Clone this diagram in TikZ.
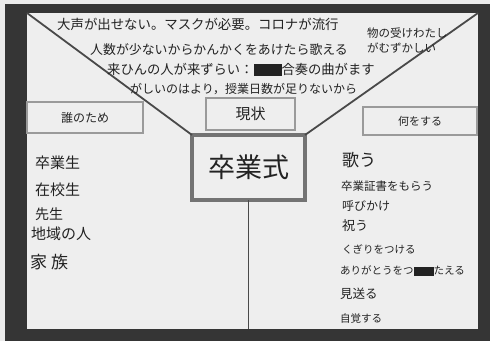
\documentclass[tikz,border=0pt]{standalone}
\usepackage{fontspec}
\newfontfamily\jp{Noto Sans CJK JP}
\definecolor{paper}{HTML}{EEEEEE}
\definecolor{frame}{HTML}{353535}
\definecolor{ink}{HTML}{222222}
\definecolor{boxgray}{HTML}{9A9A9A}
\tikzset{
  hand/.style={font=\jp, text=ink, anchor=west, inner sep=0pt},
  sidebox/.style={draw=boxgray, line width=2.6pt, fill=paper, inner sep=0pt, outer sep=0pt, font=\jp, text=ink},
  mainbox/.style={draw=gray!90!black, line width=3.4pt, fill=paper, inner sep=0pt, outer sep=0pt, font=\jp, text=ink},
  pen/.style={draw=frame!90, line width=1.8pt}
}
\begin{document}
\begin{tikzpicture}[x=1pt,y=-1pt]
\useasboundingbox (0,0) rectangle (490,341);
\fill[white!92!black] (0,0) rectangle (490,341);
\fill[frame] (5,4) rectangle (490,341);
\fill[paper] (27,13) rectangle (478,329);
% corner coordinates
\coordinate (tl) at (27,13);
\coordinate (tr) at (478,13);
\coordinate (bm) at (248,329);
% boxes
\node[mainbox, minimum width=113pt, minimum height=65pt, font=\jp\fontsize{27}{30}\selectfont] (main) at (248.5,167.5) {卒業式};
\node[sidebox, minimum width=89pt, minimum height=32pt, font=\jp\fontsize{15}{17}\selectfont] (now) at (250.5,114) {現状};
\node[sidebox, minimum width=116pt, minimum height=31pt, font=\jp\fontsize{12}{14}\selectfont] (who) at (85,117.5) {誰のため};
\node[sidebox, minimum width=114pt, minimum height=28pt, font=\jp\fontsize{11}{13}\selectfont] (what) at (420,121) {何をする};
% connectors
\draw[pen] (tl) -- (main.north west);
\draw[pen] (tr) -- (main.north east);
\draw[pen] (main.south) -- (main.south |- bm);
% top texts
\node[hand, font=\jp\fontsize{13.4}{15}\selectfont] (t1) at (57,24) {大声が出せない。マスクが必要。コロナが流行};
\node[hand, font=\jp\fontsize{12.9}{15}\selectfont] (t2) at (90,50) {人数が少ないからかんかくをあけたら歌える};
\node[hand, font=\jp\fontsize{13.3}{15}\selectfont] (t3) at (107,70) {来ひんの人が来ずらい：\rule[-0.12em]{28pt}{0.95em}合奏の曲がます};
\node[hand, font=\jp\fontsize{12}{15}\selectfont] (t4) at (130,89) {がしいのはより，授業日数が足りないから};
\node[hand, font=\jp\fontsize{11.5}{14}\selectfont] (r1) at (367,33) {物の受けわたし};
\node[hand, font=\jp\fontsize{11.5}{14}\selectfont] (r2) at (367,48) {がむずかしい};
% left list
\node[hand, font=\jp\fontsize{15}{17}\selectfont] (w1) at (35,163) {卒業生};
\node[hand, font=\jp\fontsize{15}{17}\selectfont] (w2) at (35,190) {在校生};
\node[hand, font=\jp\fontsize{14}{17}\selectfont] (w3) at (35,214) {先生};
\node[hand, font=\jp\fontsize{15}{17}\selectfont] (w4) at (31,234) {地域の人};
\node[hand, font=\jp\fontsize{17}{19}\selectfont] (w5) at (30,262) {家\hspace{4pt}族};
% right list
\node[hand, font=\jp\fontsize{17}{19}\selectfont] (d1) at (342,160) {歌う};
\node[hand, font=\jp\fontsize{11.5}{14}\selectfont] (d2) at (341,186) {卒業証書をもらう};
\node[hand, font=\jp\fontsize{12}{14}\selectfont] (d3) at (342,206) {呼びかけ};
\node[hand, font=\jp\fontsize{13}{15}\selectfont] (d4) at (342,226) {祝う};
\node[hand, font=\jp\fontsize{10.5}{13}\selectfont] (d5) at (342,249) {くぎりをつける};
\node[hand, font=\jp\fontsize{10.5}{13}\selectfont] (d6) at (340,271) {ありがとうをつ\rule[-0.1em]{20pt}{0.9em}たえる};
\node[hand, font=\jp\fontsize{12.5}{15}\selectfont] (d7) at (340,294) {見送る};
\node[hand, font=\jp\fontsize{10.5}{13}\selectfont] (d8) at (340,318) {自覚する};
\end{tikzpicture}
\end{document}
